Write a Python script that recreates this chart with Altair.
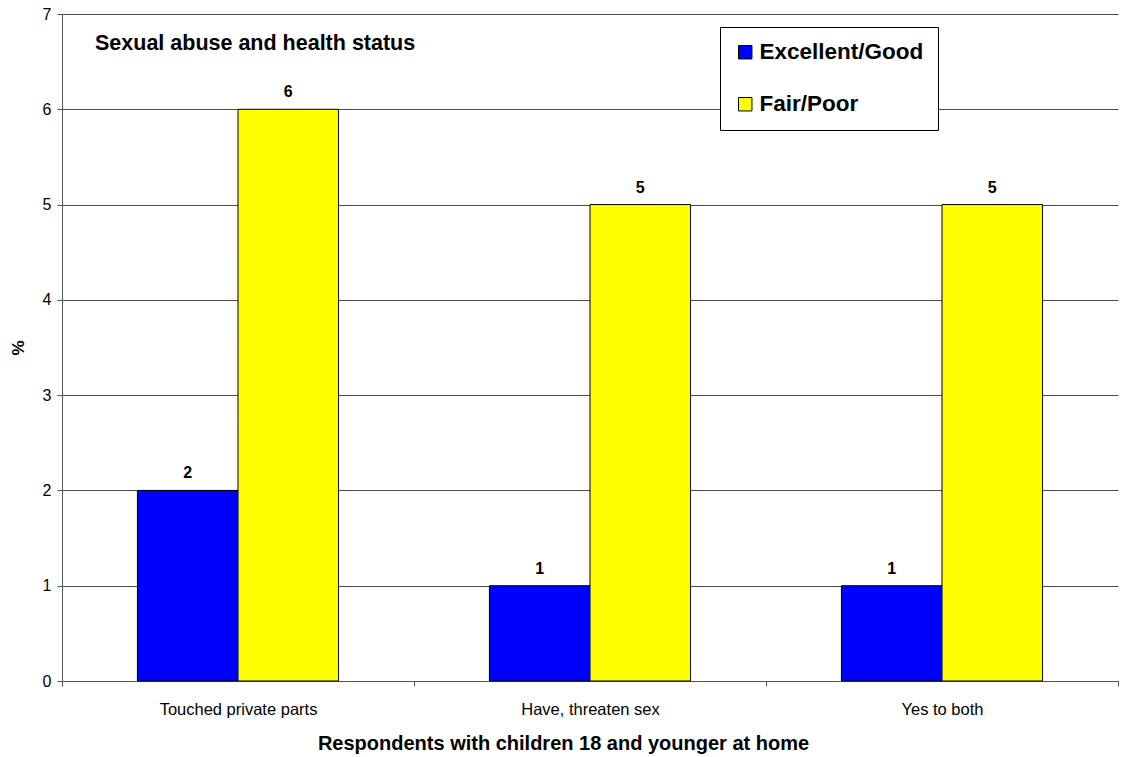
import altair as alt
import pandas as pd

# Survey results: share of respondents reporting sexual abuse, by self-rated health
categories = ["Touched private parts", "Have, threaten sex", "Yes to both"]
health_groups = ["Excellent/Good", "Fair/Poor"]
excellent_good = [2, 1, 1]
fair_poor = [6, 5, 5]
group_colors = ["#0000FF", "#FFFF00"]
y_ticks = [0, 1, 2, 3, 4, 5, 6, 7]

chart_title = "Sexual abuse and health status"
x_title = "Respondents with children 18 and younger at home"
y_title = "%"

rows = []
for i, cat in enumerate(categories):
    rows.append({"category": cat, "status": health_groups[0], "pct": excellent_good[i]})
    rows.append({"category": cat, "status": health_groups[1], "pct": fair_poor[i]})
df = pd.DataFrame(rows)

FONT = "Liberation Sans"

x_enc = alt.X(
    "category:N",
    sort=categories,
    scale=alt.Scale(paddingInner=0, paddingOuter=0),
    axis=alt.Axis(
        title=x_title,
        labelAngle=0,
        tickBand="extent",
        tickSize=5,
        tickColor="#555555",
        domainColor="#555555",
        labelFontSize=16.5,
        labelColor="#000000",
        labelPadding=15,
        titleFontSize=20,
        titleFontWeight="bold",
        titleColor="#000000",
        titleX=501,
        titleY=52,
    ),
)
xoff_enc = alt.XOffset(
    "status:N",
    sort=health_groups,
    scale=alt.Scale(paddingOuter=0.75, paddingInner=0),
)
y_enc = alt.Y(
    "pct:Q",
    scale=alt.Scale(domain=[0, 7], nice=False),
    axis=alt.Axis(
        title=y_title,
        values=y_ticks,
        format="d",
        tickSize=5,
        tickColor="#555555",
        domainColor="#555555",
        grid=True,
        gridColor="#4a4a4a",
        gridWidth=1,
        labelFontSize=16,
        labelColor="#000000",
        labelPadding=6,
        titleFontSize=17,
        titleFontWeight="bold",
        titleColor="#000000",
        titleX=-35,
    ),
)

base = alt.Chart(df)

bars = base.mark_bar(stroke="#000000", strokeWidth=1).encode(
    x=x_enc,
    xOffset=xoff_enc,
    y=y_enc,
    color=alt.Color(
        "status:N",
        sort=health_groups,
        scale=alt.Scale(domain=health_groups, range=group_colors),
        legend=alt.Legend(
            title=None,
            orient="none",
            legendX=658,
            legendY=13,
            symbolType="square",
            symbolSize=180,
            symbolStrokeColor="#000000",
            symbolStrokeWidth=1,
            labelFontSize=22.5,
            labelFontWeight="bold",
            labelColor="#000000",
            labelOffset=3,
            labelLimit=400,
            rowPadding=29,
            padding=14,
            strokeColor="#000000",
            fillColor="#FFFFFF",
        ),
    ),
)

values = base.mark_text(
    fontWeight="bold", fontSize=16, dy=-17, baseline="middle", color="#000000"
).encode(
    x=alt.X("category:N", sort=categories),
    xOffset=alt.XOffset("status:N", sort=health_groups),
    y=alt.Y("pct:Q"),
    text=alt.Text("pct:Q", format="d"),
)

title = alt.Chart(pd.DataFrame({"t": [chart_title]})).mark_text(
    align="left", baseline="middle", fontSize=21.5, fontWeight="bold", color="#000000"
).encode(x=alt.value(33), y=alt.value(30), text="t:N")

chart = (
    alt.layer(bars, values, title)
    .properties(
        width=1056,
        height=667,
        autosize=alt.AutoSizeParams(type="none"),
        padding={"left": 62, "top": 14, "right": 8, "bottom": 76},
    )
    .configure(font=FONT, background="#FFFFFF")
    .configure_view(strokeWidth=0)
)

chart.save("out.html", embed_options={"renderer": "svg", "actions": False})
